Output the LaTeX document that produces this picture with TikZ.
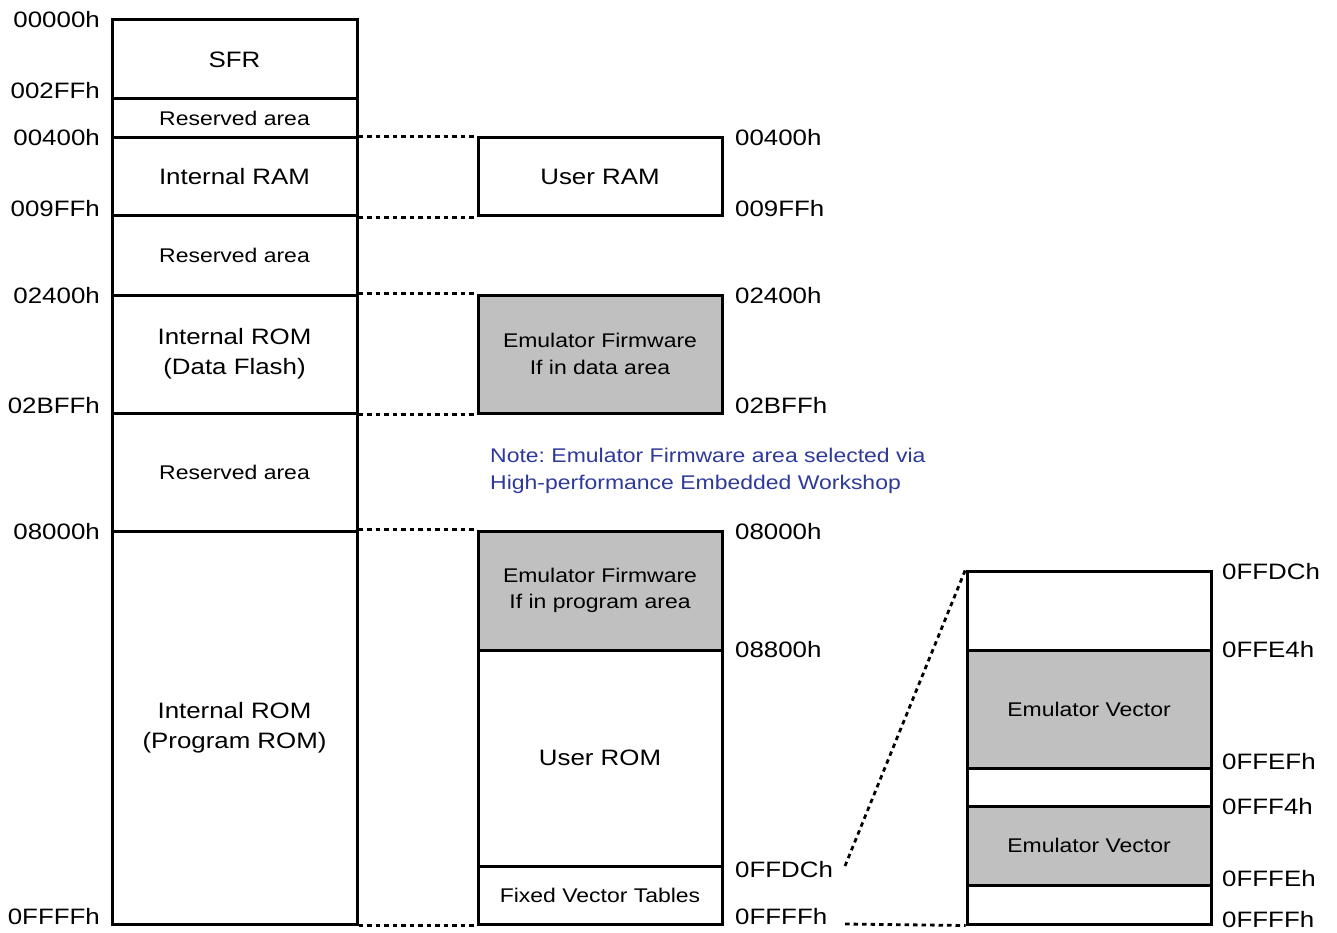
\documentclass[tikz,border=0pt]{standalone}
\usepackage{fontspec}
\setmainfont{Liberation Sans}[FakeStretch=1.16]
\definecolor{boxgray}{HTML}{C0C0C0}
\definecolor{noteblue}{HTML}{2E3A9A}
\frenchspacing
\begin{document}
\begin{tikzpicture}[x=1pt,y=-1pt,
  region/.style={draw=black,line width=3pt,inner sep=0pt,align=center,font=\fontsize{22.3}{30}\selectfont},
  small/.style={font=\fontsize{19.8}{26.5}\selectfont},
  shade/.style={fill=boxgray},
  addr/.style={inner sep=0pt,font=\fontsize{22.3}{26}\selectfont,text height=16pt,text depth=0pt},
  dotline/.style={line width=2.8pt,dash pattern=on 4.5pt off 4pt}]
\useasboundingbox (0,0) rectangle (1337,933);
\fill[white] (0,0) rectangle (1337,933);
% left column
\node[region,minimum width=245pt,minimum height=79pt] (sfr) at (234.5,59.5) {SFR};
\node[region,small,minimum width=245pt,minimum height=39pt] (res1) at (234.5,118.5) {Reserved area};
\node[region,minimum width=245pt,minimum height=78pt] (iram) at (234.5,177) {Internal RAM};
\node[region,small,minimum width=245pt,minimum height=79pt] (res2) at (234.5,255.5) {Reserved area};
\node[region,minimum width=245pt,minimum height=118pt] (irom) at (234.5,354) {Internal ROM\\(Data Flash)};
\node[region,small,minimum width=245pt,minimum height=118pt] (res3) at (234.5,472) {Reserved area};
\node[region,minimum width=245pt,minimum height=393pt] (prom) at (234.5,727.5) {Internal ROM\\(Program ROM)};
% middle column
\node[region,minimum width=244pt,minimum height=78pt] (uram) at (600,177) {User RAM};
\node[region,small,shade,minimum width=244pt,minimum height=118pt] (efd) at (600,354) {Emulator Firmware\\If in data area};
\node[region,small,shade,minimum width=244pt,minimum height=119pt] (efp) at (600,590.5) {Emulator Firmware\\If in program area};
\node[region,minimum width=244pt,minimum height=216pt] (urom) at (600,758) {User ROM};
\node[region,small,minimum width=244pt,minimum height=58pt] (fvt) at (600,895) {Fixed Vector Tables};
% right column
\node[region,minimum width=244pt,minimum height=79pt] (r0) at (1089,610.5) {};
\node[region,small,shade,minimum width=244pt,minimum height=118pt] (ev1) at (1089,709) {Emulator Vector};
\node[region,minimum width=244pt,minimum height=38pt] (r2) at (1089,787) {};
\node[region,small,shade,minimum width=244pt,minimum height=79pt] (ev2) at (1089,845.5) {Emulator Vector};
\node[region,minimum width=244pt,minimum height=39pt] (r4) at (1089,904.5) {};
% note
\node[anchor=north west,inner sep=0pt,align=left,text=noteblue,font=\fontsize{19.8}{26.5}\selectfont] (note) at (490,448) {Note: Emulator Firmware area selected via\\High-performance Embedded Workshop};
% left addresses
\node[addr,anchor=east] (a1) at (100,20) {00000h};
\node[addr,anchor=east] (a2) at (100,90.5) {002FFh};
\node[addr,anchor=east] (a3) at (100,138) {00400h};
\node[addr,anchor=east] (a4) at (100,208.5) {009FFh};
\node[addr,anchor=east] (a5) at (100,295.5) {02400h};
\node[addr,anchor=east] (a6) at (100,405) {02BFFh};
\node[addr,anchor=east] (a7) at (100,531) {08000h};
\node[addr,anchor=east] (a8) at (100,916) {0FFFFh};
% middle addresses
\node[addr,anchor=west] (b1) at (735,138) {00400h};
\node[addr,anchor=west] (b2) at (735,208.5) {009FFh};
\node[addr,anchor=west] (b3) at (735,295.5) {02400h};
\node[addr,anchor=west] (b4) at (735,405) {02BFFh};
\node[addr,anchor=west] (b5) at (735,531) {08000h};
\node[addr,anchor=west] (b6) at (735,649) {08800h};
\node[addr,anchor=west] (b7) at (735,869) {0FFDCh};
\node[addr,anchor=west] (b8) at (735,916) {0FFFFh};
% right addresses
\node[addr,anchor=west] (c1) at (1222,571) {0FFDCh};
\node[addr,anchor=west] (c2) at (1222,649.5) {0FFE4h};
\node[addr,anchor=west] (c3) at (1222,761) {0FFEFh};
\node[addr,anchor=west] (c4) at (1222,806) {0FFF4h};
\node[addr,anchor=west] (c5) at (1222,878.5) {0FFFEh};
\node[addr,anchor=west] (c6) at (1222,919) {0FFFFh};
% dotted connectors
\draw[dotline] (iram.north east) -- (uram.north west);
\draw[dotline] (iram.south east) -- (uram.south west);
\draw[dotline] (irom.north east) -- (efd.north west);
\draw[dotline] (irom.south east) -- (efd.south west);
\draw[dotline] (prom.north east) -- (efp.north west);
\draw[dotline] (prom.south east) -- (fvt.south west);
\coordinate (zoomtop) at (845,866);
\coordinate (zoombot) at (845,924);
\draw[dotline] (zoomtop) -- (r0.north west);
\draw[dotline] (zoombot) -- (r4.south west);
\end{tikzpicture}
\end{document}
